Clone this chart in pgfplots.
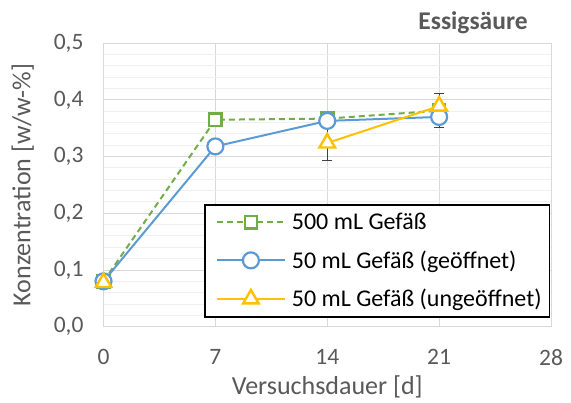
\documentclass[border=0pt]{standalone}
\usepackage{pgfplots}
\pgfplotsset{compat=1.18}
\usepackage{fontspec}
\setmainfont{Carlito}
\definecolor{cgreen}{HTML}{70AD47}
\definecolor{cblue}{HTML}{5B9BD5}
\definecolor{corange}{HTML}{FFC000}
\definecolor{ctext}{HTML}{595959}
\definecolor{cgrid}{HTML}{D9D9D9}
\definecolor{cminor}{HTML}{F0F0F0}
\definecolor{cerr}{HTML}{404040}
\begin{document}
\begin{tikzpicture}[x=1pt,y=1pt]
\useasboundingbox (0,0) rectangle (571,-403);
\begin{axis}[
  at={(103.5pt,-326.7pt)}, anchor=south west,
  scale only axis, width=447.5pt, height=283.5pt,
  xmin=0, xmax=28, ymin=0, ymax=0.5,
  xtick={0,7,14,21,28}, ytick={0,0.1,0.2,0.3,0.4,0.5},
  minor ytick={0.02,0.04,0.06,0.08,0.12,0.14,0.16,0.18,0.22,0.24,0.26,0.28,0.32,0.34,0.36,0.38,0.42,0.44,0.46,0.48},
  xmajorgrids, ymajorgrids, yminorgrids,
  major grid style={cgrid, line width=1pt},
  minor grid style={cminor, line width=1pt},
  axis line style={cgrid, line width=1pt},
  tick style={draw=none},
  yticklabel style={/pgf/number format/use comma, /pgf/number format/fixed, /pgf/number format/fixed zerofill, /pgf/number format/precision=1, xshift=-16.5pt},
  /pgf/number format/assume math mode=true,
  ticklabel style={font=\fontsize{23.5}{28}\selectfont, text=ctext},
  xticklabel style={yshift=-19pt},
  xlabel={Versuchsdauer [d]}, ylabel={Konzentration [w/w-\%]},
  label style={font=\fontsize{26}{31}\selectfont, text=ctext},
  xlabel shift=3pt,
  ylabel shift=13pt,
  legend style={at={(0.2246,0.4328)}, anchor=north west, draw=black, line width=1.8pt,
     fill=white, font=\fontsize{24}{29}\selectfont, inner xsep=5pt, inner ysep=5.5pt,
     nodes={inner sep=3pt}, row sep=13.5pt, cells={anchor=west}},
  legend image code/.code={\path (0pt,0pt) (77pt,0pt);\draw[mark repeat=2,mark phase=2] plot coordinates {(6pt,0pt) (40pt,0pt) (74pt,0pt)};},
  clip=false,
]
\addplot[cgreen, line width=2pt, dashed, dash pattern=on 6pt off 4pt, mark=square*, mark size=6.2pt,
  mark options={solid, fill=white, line width=2.2pt}] coordinates {(0,0.08) (7,0.365) (14,0.367) (21,0.381)};
\addlegendentry{500 mL Gefäß}
\addplot[cblue, line width=2pt, mark=*, mark size=8pt, mark options={fill=white, line width=2.2pt},
  error bars/.cd, y dir=both, y explicit, error bar style={cerr, line width=1pt},
  error mark options={rotate=90, mark size=5pt, cerr, line width=1pt}]
  table[x=x, y=y, y error=e] {
x y e
0 0.080 0
7 0.318 0
14 0.363 0
21 0.370 0.018
};
\addlegendentry{50 mL Gefäß (geöffnet)}
\addplot[corange, line width=2pt, mark=triangle*, mark size=9pt, mark options={fill=white, line width=2.4pt},
  error bars/.cd, y dir=both, y explicit, error bar style={cerr, line width=1pt},
  error mark options={rotate=90, mark size=5pt, cerr, line width=1pt}]
  table[x=x, y=y, y error=e] {
x y e
14 0.324 0.031
21 0.389 0.023
};
\addlegendentry{50 mL Gefäß (ungeöffnet)}
\addplot[corange, only marks, mark=triangle*, mark size=9pt, mark options={fill=white, line width=2.4pt}, forget plot]
  coordinates {(0,0.078)};
\end{axis}
\node[anchor=center, font=\fontsize{25.5}{30}\selectfont\bfseries, text=ctext] at (473,-23) {Essigsäure};
\end{tikzpicture}
\end{document}
